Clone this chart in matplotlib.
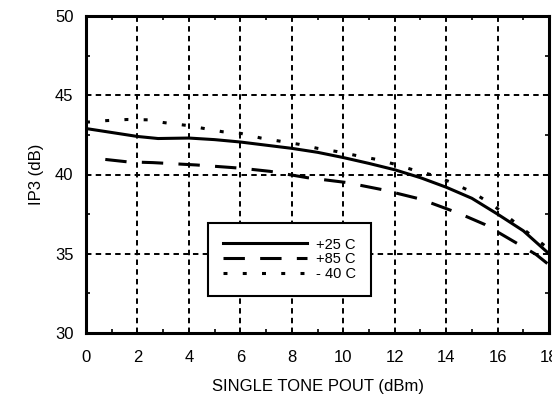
import matplotlib
matplotlib.use("Agg")
import matplotlib.pyplot as plt
from matplotlib.ticker import MultipleLocator

# Data
x_25 = [0, 1, 2, 2.8, 4, 5, 6, 7, 8, 9, 10, 11, 12, 13, 14, 15, 16, 17, 18]
y_25 = [42.9, 42.65, 42.4, 42.27, 42.3, 42.2, 42.05, 41.85, 41.65, 41.4, 41.07,
        40.7, 40.3, 39.8, 39.2, 38.5, 37.5, 36.45, 35.0]

x_85 = [0.75, 1.6, 2.6, 4.3, 6, 7.15, 8.6, 10.1, 11.5, 13, 14.5, 15.5, 16.5, 17.5, 18]
y_85 = [40.95, 40.8, 40.75, 40.6, 40.4, 40.2, 39.8, 39.5, 39.05, 38.45, 37.55,
        36.85, 35.9, 34.95, 34.3]

x_m40 = [0, 0.8, 1.6, 2.4, 3, 3.9, 5.3, 6, 6.8, 7.55, 8.3, 9, 9.75, 10.5, 11.3,
         12, 12.7, 13.5, 14.2, 15, 15.8, 16.5, 17.2, 18]
y_m40 = [43.3, 43.4, 43.47, 43.45, 43.28, 43.1, 42.7, 42.6, 42.3, 42.1, 41.9,
         41.65, 41.45, 41.2, 40.95, 40.65, 40.3, 39.95, 39.5, 38.9, 38.1, 37.2,
         36.3, 35.3]

labels = ["+25 C", "+85 C", "- 40 C"]
x_ticks = [0, 2, 4, 6, 8, 10, 12, 14, 16, 18]
y_ticks = [30, 35, 40, 45, 50]

plt.rcParams['font.family'] = ['Liberation Sans', 'DejaVu Sans']

fig = plt.figure(figsize=(5.52, 3.95), dpi=100)
ax = fig.add_axes([86 / 552, 62 / 395, 463 / 552, 317 / 395])

lw = 2.2
ax.plot(x_25, y_25, color='black', lw=lw, linestyle='-', label=labels[0], zorder=3)
ax.plot(x_85, y_85, color='black', lw=lw, linestyle=(0, (7, 5)), label=labels[1], zorder=3)
ax.plot(x_m40, y_m40, color='black', lw=lw, linestyle=(0, (1.3, 5)), label=labels[2], zorder=3)

ax.set_xlim(0, 18)
ax.set_ylim(30, 50)
ax.set_xticks(x_ticks)
ax.set_yticks(y_ticks)
ax.xaxis.set_minor_locator(MultipleLocator(1))
ax.yaxis.set_minor_locator(MultipleLocator(2.5))

ax.grid(True, which='major', color='black', lw=1.4, linestyle=(0, (2.8, 2.2)), zorder=1)

ax.tick_params(axis='both', which='major', direction='in', length=0, labelsize=12,
               top=True, right=True)
ax.tick_params(axis='both', which='minor', direction='in', length=3, width=1.2,
               top=True, right=True)
ax.tick_params(axis='x', which='major', pad=12.5)
ax.tick_params(axis='y', which='major', pad=9)

for s in ax.spines.values():
    s.set_linewidth(2.2)
    s.set_zorder(4)

ax.set_xlabel("SINGLE TONE POUT (dBm)", fontsize=12, labelpad=9.5)
ax.set_ylabel("IP3 (dB)", fontsize=12, labelpad=8)

leg = ax.legend(loc='upper left', bbox_to_anchor=(0.2635, 0.347), fontsize=10.5,
                handlelength=5.8, handletextpad=0.6, borderpad=1.0,
                labelspacing=0.05, fancybox=False, framealpha=1,
                edgecolor='black', borderaxespad=0)
leg.get_frame().set_linewidth(1.5)
leg.set_zorder(5)

fig.savefig("out.png", dpi=100)
